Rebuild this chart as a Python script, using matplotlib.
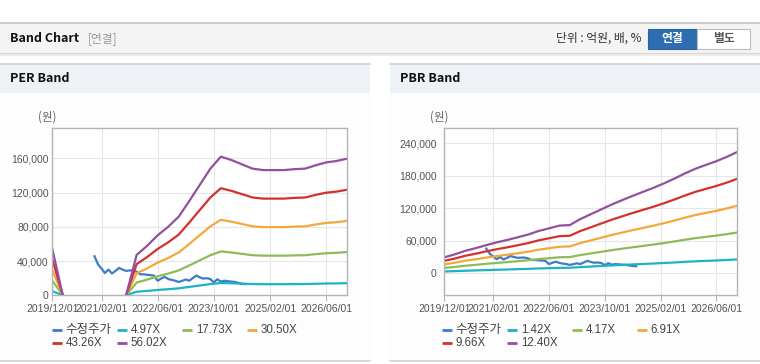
import numpy as np
import pandas as pd
import matplotlib
matplotlib.use('Agg')
import matplotlib.pyplot as plt
from matplotlib.patches import Rectangle
from matplotlib.ticker import FuncFormatter

KR = ['Noto Sans CJK KR', 'DejaVu Sans']
NUM = ['Liberation Sans', 'Noto Sans CJK KR']
plt.rcParams['font.family'] = NUM

# 분기 날짜 (2019/12 ~ 2026/12)
q_dates = pd.date_range('2019-12-01', '2026-12-01', freq='QS-DEC')
# 월별 수정주가 날짜
p_dates = pd.date_range('2020-12-01', periods=44, freq='MS')

price = [45600, 36000, 31000, 26000, 30000, 25500, 28500, 32000, 30000, 28500,
         29000, 29000, 27500, 24500, 24500, 24000, 23500, 23000, 17000, 19500,
         21500, 19000, 18000, 17000, 15500, 17000, 18500, 17000, 20000, 23000,
         21000, 19500, 20000, 19000, 15000, 18700, 16000, 17000, 16500, 16000,
         15500, 14500, 13500, 13000]

eps = [966, 0, np.nan, np.nan, np.nan, np.nan, np.nan, 0, 841,
       1030, 1250, 1430, 1640,
       1960, 2300, 2640, 2890,
       2820, 2730, 2640, 2610,
       2610, 2610, 2630, 2640,
       2710, 2770, 2800, 2850]

bps = [2380, 2820, 3350, 3750, 4190, 4600, 4960, 5360, 5770, 6290, 6690,
       7100, 7180, 8070, 8790, 9520, 10240, 10890, 11530, 12140, 12740,
       13390, 14110, 14880, 15570, 16130, 16690, 17340, 18070]

per_mult = [4.97, 17.73, 30.50, 43.26, 56.02]
pbr_mult = [1.42, 4.17, 6.91, 9.66, 12.40]
per_labels = ['수정주가', '4.97X', '17.73X', '30.50X', '43.26X', '56.02X']
pbr_labels = ['수정주가', '1.42X', '4.17X', '6.91X', '9.66X', '12.40X']

colors = ['#3f7cc6', '#1eb2c6', '#8fbb56', '#f4a83c', '#d3312d', '#92509f']

x_ticks = pd.to_datetime(['2019-12-01', '2021-02-01', '2022-06-01',
                          '2023-10-01', '2025-02-01', '2026-06-01'])

W, H = 760, 364
fig = plt.figure(figsize=(W / 100, H / 100), dpi=100)
fig.patch.set_facecolor('white')

bg = fig.add_axes([0, 0, 1, 1])
bg.set_xlim(0, W)
bg.set_ylim(H, 0)
bg.axis('off')

# 상단 헤더
bg.add_patch(Rectangle((0, 22), W, 31, fc='#f4f4f4', ec='none'))
bg.plot([0, W], [22.5, 22.5], color='#c4c4c4', lw=1.2)
bg.plot([0, W], [53.5, 53.5], color='#d4d4d4', lw=1.5)
bg.plot([0, W], [55, 55], color='#ececec', lw=1.5)
bg.text(10, 38.5, 'Band Chart', fontsize=9, fontweight='bold', family=KR,
        color='#111111', va='center')
bg.text(88, 38.5, '[연결]', fontsize=8.5, family=KR, color='#9a9a9a', va='center')
bg.text(642, 38.5, '단위 : 억원, 배, %', fontsize=8.5, family=KR, color='#333333',
        va='center', ha='right')
bg.add_patch(Rectangle((648, 28.5), 49, 20, fc='#2f6db2', ec='#2a62a2', lw=0.8))
bg.add_patch(Rectangle((697, 28.5), 53, 20, fc='white', ec='#bdbdbd', lw=0.8))
bg.text(672.5, 38.5, '연결', fontsize=8.5, fontweight='bold', family=KR,
        color='white', ha='center', va='center')
bg.text(723.5, 38.5, '별도', fontsize=8.5, fontweight='bold', family=KR,
        color='#555555', ha='center', va='center')

# 패널
for px0, title in [(0, 'PER Band'), (390, 'PBR Band')]:
    bg.add_patch(Rectangle((px0, 93), 370, 268, fc='#fdfdfd', ec='none'))
    bg.add_patch(Rectangle((px0, 63.5), 370, 29.5, fc='#eef2f7', ec='none'))
    bg.plot([px0, px0 + 370], [63.5, 63.5], color='#d2d2d2', lw=1.2)
    bg.plot([px0, px0 + 370], [361, 361], color='#d2d2d2', lw=1.2)
    bg.text(px0 + 10, 79, title, fontsize=9, fontweight='bold', family=KR,
            color='#111111', va='center')


def make_axes(l, r, t, b):
    return fig.add_axes([l / W, 1 - b / H, (r - l) / W, (b - t) / H])


def style(ax, ylim, yticks, pad):
    ax.set_facecolor('white')
    ax.set_ylim(*ylim)
    ax.set_yticks(yticks)
    ax.yaxis.set_major_formatter(FuncFormatter(lambda v, p: f'{int(v):,}'))
    ax.set_xlim(pd.Timestamp('2019-12-01'), pd.Timestamp('2026-12-01'))
    ax.set_xticks(x_ticks)
    ax.set_xticklabels([d.strftime('%Y/%m/%d') for d in x_ticks])
    ax.grid(True, color='#e6e6e6', lw=0.8)
    ax.set_axisbelow(True)
    for s in ax.spines.values():
        s.set_color('#b4b4b4')
        s.set_linewidth(1)
    ax.tick_params(axis='x', length=4, color='#b4b4b4', labelsize=7.5,
                   labelcolor='#555555', pad=2)
    ax.tick_params(axis='y', length=0, labelsize=7.5, labelcolor='#555555', pad=pad)


def legend(x0, labels):
    cols = [0, 65, 130, 195]
    for i, lab in enumerate(labels):
        row, col = divmod(i, 4)
        x = x0 + cols[col]
        y = 330 + row * 13.3
        bg.plot([x, x + 10], [y, y], color=colors[i], lw=2, solid_capstyle='butt')
        fs = 9 if lab == '수정주가' else 8.3
        bg.text(x + 13.5, y, lab, fontsize=fs, family=KR if lab == '수정주가' else NUM,
                color='#444444', va='center')


# PER Band
ax1 = make_axes(52.3, 347.3, 128.3, 295.3)
ax1.plot(p_dates, price, color=colors[0], lw=1.6)
for i, m in enumerate(per_mult):
    ax1.plot(q_dates, np.array(eps) * m, color=colors[i + 1], lw=1.6)
style(ax1, (0, 195000), [0, 40000, 80000, 120000, 160000], 2.5)
bg.text(47.5, 117.5, '(원)', fontsize=8.3, family=KR, color='#666666',
        ha='center', va='center')
legend(52.3, per_labels)

# PBR Band
ax2 = make_axes(444.3, 737.3, 128.3, 295.3)
ax2.plot(p_dates, price, color=colors[0], lw=1.6)
for i, m in enumerate(pbr_mult):
    ax2.plot(q_dates, np.array(bps) * m, color=colors[i + 1], lw=1.6)
style(ax2, (-40600, 267700), [0, 60000, 120000, 180000, 240000], 5.5)
bg.text(439.5, 117.5, '(원)', fontsize=8.3, family=KR, color='#666666',
        ha='center', va='center')
legend(442.3, pbr_labels)

fig.savefig('out.png', dpi=100, facecolor='white')
